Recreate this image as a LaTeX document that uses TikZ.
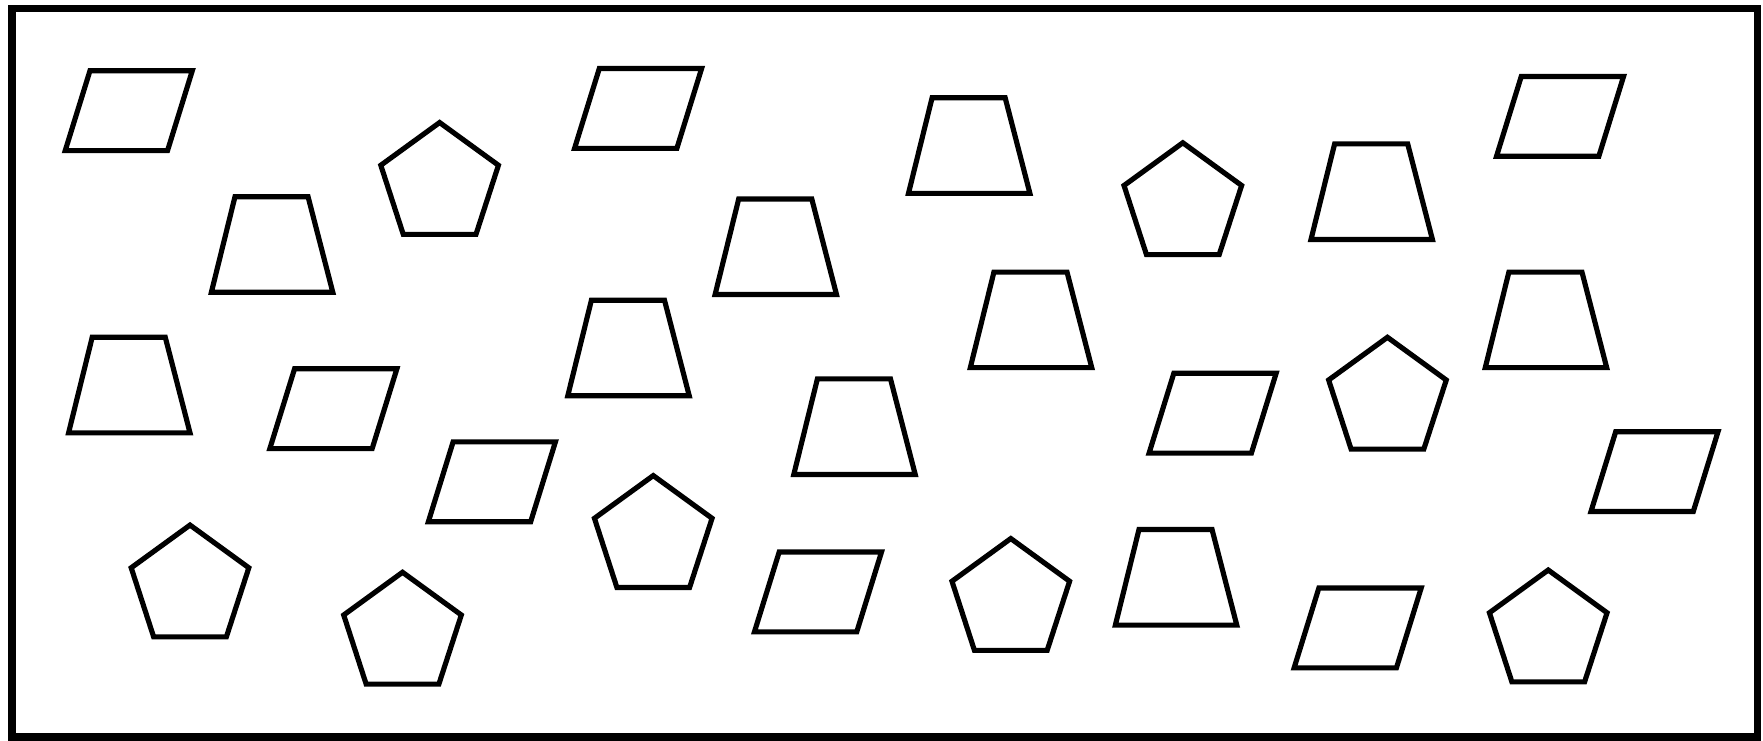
\documentclass[tikz,border=0pt]{standalone}
\begin{document}
\begin{tikzpicture}[x=0.01cm,y=-0.01cm,
		figline/.style={line width=1.3pt},
		frameline/.style={line width=1.9pt}]
			\useasboundingbox (0,0) rectangle (1568,659);
			\draw[frameline] (10.5,7.5) rectangle (1563,655.5);
			% parallelograms (bottom left corner)
			\foreach \x/\y in {58/134, 511/132, 1331/139, 240/399, 381/464, 1022/403, 1415/455, 671/562, 1151/594}
				\draw[figline] (\x,\y) -- ++(91,0) -- ++(22,-71) -- ++(-91,0) -- cycle;
			% trapezoids (bottom left corner)
			\foreach \x/\y in {188/260, 808/172, 1166/213, 636/262, 61/385, 505/352, 863/327, 1321/327, 706/422, 992/556}
				\draw[figline] (\x,\y) -- ++(108,0) -- ++(-22,-85) -- ++(-65,0) -- cycle;
			% pentagons (centre)
			\foreach \x/\y in {391/164, 1052/182, 1234/355, 581/478, 169/522, 358/564, 899/534, 1377/562}
				\draw[figline, shift={(\x,\y)}] (-90:55) -- (-18:55) -- (54:55) -- (126:55) -- (198:55) -- cycle;
		\end{tikzpicture}
\end{document}
